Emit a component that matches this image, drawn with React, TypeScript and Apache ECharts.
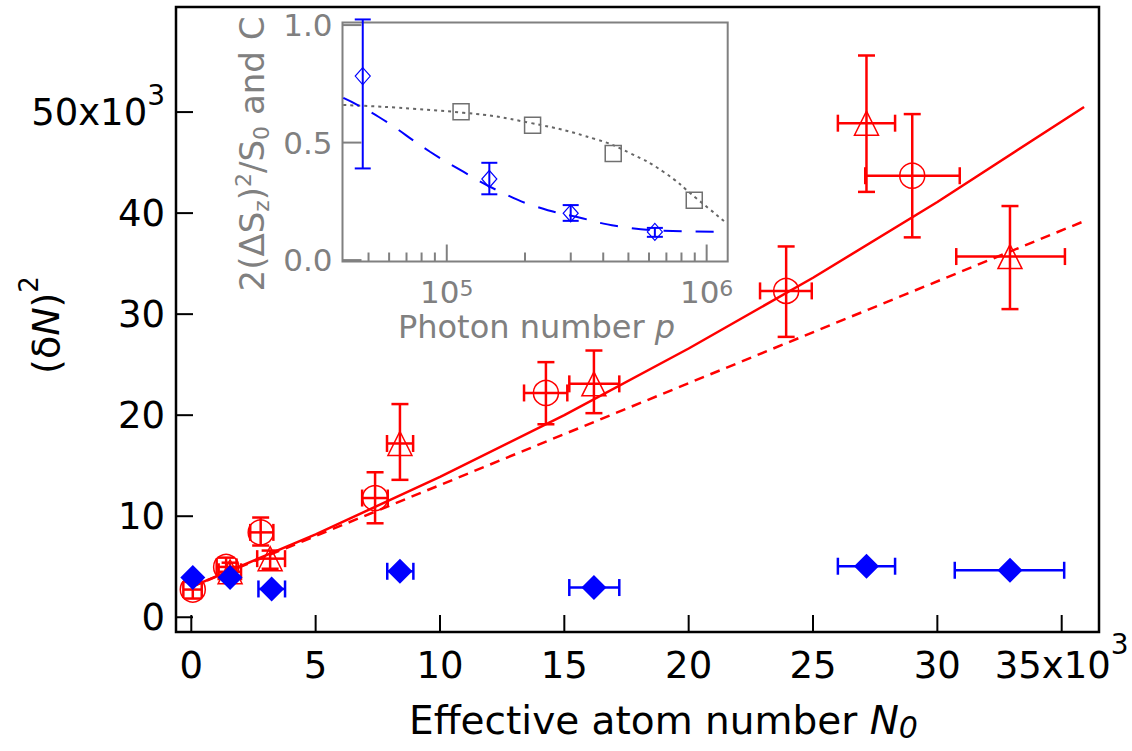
import React, { useEffect, useRef } from "react";
import * as echarts from "echarts";

const FONT = "DejaVu Sans";
const RED = "#ff0000";
const BLUE = "#0000ff";
const GRAY = "#808080";

// ---------- main plot (values in units of 10^3) ----------
const xTicks = [0, 5, 10, 15, 20, 25, 30, 35];
const yTicks = [0, 10, 20, 30, 40, 50];

// red open circles
const circX = [0.06, 1.4, 2.79, 7.39, 14.26, 23.92, 28.99];
const circY = [2.74, 4.98, 8.4, 11.8, 22.2, 32.3, 43.7];
const circXLo = [-0.32, 1.02, 2.37, 6.87, 13.38, 22.87, 27.1];
const circXHi = [0.42, 1.82, 3.3, 7.9, 15.12, 24.95, 30.9];
const circYLo = [1.85, 4.1, 7.1, 9.3, 19.1, 27.75, 37.6];
const circYHi = [3.5, 5.9, 9.87, 14.35, 25.25, 36.7, 49.8];

// red open triangles
const triX = [1.56, 3.17, 8.39, 16.19, 27.15, 32.92];
const triY = [4.5, 5.8, 17.2, 23.1, 48.9, 35.7];
const triXLo = [1.1, 2.65, 7.87, 15.2, 26.0, 30.76];
const triXHi = [2.0, 3.77, 8.92, 17.21, 28.3, 35.13];
const triYLo = [3.7, 4.8, 13.6, 20.2, 42.1, 30.5];
const triYHi = [5.4, 6.6, 21.1, 26.4, 55.6, 40.7];

// blue filled diamonds
const diaX = [0.06, 1.56, 3.23, 8.39, 16.19, 27.15, 32.92];
const diaY = [3.93, 3.93, 2.8, 4.55, 2.94, 5.05, 4.65];
const diaXLo = [0.06, 1.56, 2.7, 7.88, 15.2, 26.0, 30.7];
const diaXHi = [0.06, 1.56, 3.77, 8.93, 17.21, 28.3, 35.1];

// fit curves
const fitSolidX = [0, 5, 10, 15, 20, 25, 30, 35.9];
const fitSolidY = [3.0, 8.2, 13.9, 20.0, 26.6, 33.6, 41.1, 50.5];
const fitDashX = [0, 35.9];
const fitDashY = [3.0, 39.2];

// ---------- inset ----------
const insetYTicks = [0, 0.5, 1.0];
const insetMajorTicks = [100000, 1000000];
const insetMinorTicks = [50000, 60000, 70000, 80000, 90000, 200000, 300000, 400000, 500000, 600000, 700000, 800000, 900000];

const insDiaP = [47500, 145800, 299800, 632000];
const insDiaV = [0.783, 0.345, 0.199, 0.12];
const insDiaLo = [0.39, 0.28, 0.167, 0.099];
const insDiaHi = [1.024, 0.414, 0.234, 0.137];

const insSqP = [113500, 213900, 437000, 896000];
const insSqV = [0.631, 0.574, 0.454, 0.255];

const insDotP = [40000, 115800, 209000, 377600, 507000, 681000, 915000, 1195000];
const insDotV = [0.66, 0.627, 0.584, 0.513, 0.455, 0.376, 0.262, 0.156];

const insDashP = [40000, 54600, 86200, 115800, 160400, 222000, 335000, 451000, 681000, 1195000];
const insDashV = [0.69, 0.61, 0.461, 0.376, 0.291, 0.227, 0.177, 0.145, 0.125, 0.12];

const MAIN_XMIN = -0.615;
const MAIN_XMAX = 36.5;
const MAIN_YMIN = -1.46;
const MAIN_YMAX = 60.4;
const INSET_XMIN = 39700;
const INSET_XMAX = 1205000;
const INSET_YMIN = -0.006;
const INSET_YMAX = 1.011;

function errorBars(
  xs: number[], ys: number[], xlo: number[], xhi: number[], ylo: number[], yhi: number[],
  color: string, cap: number, width: number, axisIndex: number, z = 3
) {
  const data = xs.map((x, i) => [x, ys[i], xlo[i], xhi[i], ylo[i], yhi[i]]);
  return {
    type: "custom",
    xAxisIndex: axisIndex,
    yAxisIndex: axisIndex,
    clip: false,
    z,
    silent: true,
    data,
    encode: { x: 0, y: 1 },
    renderItem: (params: any, api: any) => {
      const x = api.value(0);
      const y = api.value(1);
      const style = { stroke: color, lineWidth: width, fill: "none" };
      const children: any[] = [];
      const yl = api.value(4);
      const yh = api.value(5);
      if (yh > yl) {
        const a = api.coord([x, yl]);
        const b = api.coord([x, yh]);
        children.push({ type: "line", shape: { x1: a[0], y1: a[1], x2: b[0], y2: b[1] }, style });
        children.push({ type: "line", shape: { x1: a[0] - cap / 2, y1: a[1], x2: a[0] + cap / 2, y2: a[1] }, style });
        children.push({ type: "line", shape: { x1: b[0] - cap / 2, y1: b[1], x2: b[0] + cap / 2, y2: b[1] }, style });
      }
      const xl = api.value(2);
      const xh = api.value(3);
      if (xh > xl) {
        const a = api.coord([xl, y]);
        const b = api.coord([xh, y]);
        children.push({ type: "line", shape: { x1: a[0], y1: a[1], x2: b[0], y2: b[1] }, style });
        children.push({ type: "line", shape: { x1: a[0], y1: a[1] - cap / 2, x2: a[0], y2: a[1] + cap / 2 }, style });
        children.push({ type: "line", shape: { x1: b[0], y1: b[1] - cap / 2, x2: b[0], y2: b[1] + cap / 2 }, style });
      }
      return { type: "group", children };
    },
  };
}

// inward tick marks drawn through the axes' scales
function tickSeries(axisIndex: number, vals: number[], dir: "x" | "y", edge: number, len: number, color: string, width: number) {
  return {
    type: "custom",
    xAxisIndex: axisIndex,
    yAxisIndex: axisIndex,
    clip: false,
    silent: true,
    z: 6,
    data: vals.map((v) => (dir === "x" ? [v, edge] : [edge, v])),
    encode: { x: 0, y: 1 },
    renderItem: (params: any, api: any) => {
      const p = api.coord([api.value(0), api.value(1)]);
      const shape = dir === "x"
        ? { x1: p[0], y1: p[1], x2: p[0], y2: p[1] - len }
        : { x1: p[0], y1: p[1], x2: p[0] + len, y2: p[1] };
      return { type: "line", shape, style: { stroke: color, lineWidth: width } };
    },
  };
}

export default function App() {
  const ref = useRef<HTMLDivElement>(null);
  useEffect(() => {
    if (!ref.current) return;
    const chart = echarts.init(ref.current, null, { renderer: "svg" });
    const option: any = {
      animation: false,
      backgroundColor: "#ffffff",
      textStyle: { fontFamily: FONT },
      grid: [
        { left: 176, top: 7, right: 33, bottom: 119, show: true, borderColor: "#000", borderWidth: 2.5, backgroundColor: "transparent", outerBoundsMode: "none", containLabel: false },
        { left: 342.5, top: 22.5, right: 404.3, bottom: 489.5, show: true, borderColor: GRAY, borderWidth: 2, backgroundColor: "transparent", outerBoundsMode: "none", containLabel: false },
      ],
      xAxis: [
        {
          gridIndex: 0, type: "value", min: MAIN_XMIN, max: MAIN_XMAX,
          axisLine: { show: false, onZero: false }, splitLine: { show: false },
          axisTick: { show: false },
          axisLabel: {
            customValues: xTicks, margin: -2,
            formatter: (v: number) => (v === 35 ? "{m|35x10}{s|3}" : `{m|${v}}`),
            rich: {
              m: { fontSize: 37, lineHeight: 70, fontFamily: FONT, color: "#000" },
              s: { fontSize: 28, lineHeight: 8, verticalAlign: "top", fontFamily: FONT, color: "#000" },
            },
          },
        },
        {
          gridIndex: 1, type: "log", logBase: 10, min: INSET_XMIN, max: INSET_XMAX,
          axisLine: { show: false, onZero: false }, splitLine: { show: false }, axisTick: { show: false },
          axisLabel: {
            margin: 15.5, showMinLabel: false, showMaxLabel: false,
            formatter: (v: number) => {
              const e = Math.log10(v);
              if (Math.abs(e - Math.round(e)) > 1e-6) return "";
              return `{m|10}{s|${Math.round(e)}}`;
            },
            rich: {
              m: { fontSize: 31, lineHeight: 30, fontFamily: FONT, color: GRAY },
              s: { fontSize: 22, lineHeight: 2, verticalAlign: "top", fontFamily: FONT, color: GRAY },
            },
          },
        },
      ],
      yAxis: [
        {
          gridIndex: 0, type: "value", min: MAIN_YMIN, max: MAIN_YMAX,
          axisLine: { show: false, onZero: false }, splitLine: { show: false },
          axisTick: { show: false },
          axisLabel: {
            customValues: yTicks, margin: 11,
            formatter: (v: number) => (v === 50 ? "{m|50x10}{s|3}" : `{m|${v}}`),
            rich: {
              m: { fontSize: 37, lineHeight: 62, fontFamily: FONT, color: "#000" },
              s: { fontSize: 28, lineHeight: 10, verticalAlign: "top", fontFamily: FONT, color: "#000" },
            },
          },
        },
        {
          gridIndex: 1, type: "value", min: INSET_YMIN, max: INSET_YMAX,
          axisLine: { show: false, onZero: false }, splitLine: { show: false },
          axisTick: { show: false },
          axisLabel: {
            customValues: insetYTicks, margin: 10, color: GRAY, fontSize: 31, fontFamily: FONT,
            formatter: (v: number) => v.toFixed(1),
          },
        },
      ],
      graphic: [
        {
          type: "text", x: 663.5, y: 720,
          style: {
            text: "Effective atom number {i|N}{sub|0}",
            fontSize: 39, fontFamily: FONT, fill: "#000", lineHeight: 44,
            align: "center", verticalAlign: "middle",
            rich: {
              i: { fontSize: 39, fontStyle: "italic", fontFamily: FONT, lineHeight: 44 },
              sub: { fontSize: 30, fontStyle: "italic", fontFamily: FONT, lineHeight: 17, verticalAlign: "bottom" },
            },
          },
        },
        {
          type: "text", x: 46, y: 325, rotation: Math.PI / 2,
          style: {
            text: "(δ{i|N}){s|2}",
            fontSize: 38, fontFamily: FONT, fill: "#000", lineHeight: 60,
            align: "center", verticalAlign: "middle",
            rich: {
              i: { fontSize: 38, fontStyle: "italic", fontFamily: FONT, lineHeight: 60 },
              s: { fontSize: 26, fontFamily: FONT, lineHeight: 8, verticalAlign: "top" },
            },
          },
        },
        {
          type: "text", x: 536.5, y: 327,
          style: {
            text: "Photon number {i|p}",
            fontSize: 32, fontFamily: FONT, fill: GRAY, lineHeight: 32,
            align: "center", verticalAlign: "middle",
            rich: { i: { fontSize: 32, fontStyle: "italic", fontFamily: FONT, lineHeight: 32, color: GRAY } },
          },
        },
        {
          type: "text", x: 252, y: 154, rotation: Math.PI / 2,
          style: {
            text: "2(ΔS{b|z}){t|2}/S{b|0} and C",
            fontSize: 34, fontFamily: FONT, fill: GRAY, lineHeight: 40,
            align: "center", verticalAlign: "middle",
            rich: {
              b: { fontSize: 22, fontFamily: FONT, lineHeight: 18, verticalAlign: "bottom", color: GRAY },
              t: { fontSize: 22, fontFamily: FONT, lineHeight: 12, verticalAlign: "top", color: GRAY },
            },
          },
        },
      ],
      series: [
        {
          type: "line", xAxisIndex: 0, yAxisIndex: 0, showSymbol: false, symbol: "none", z: 2,
          data: fitSolidX.map((x, i) => [x, fitSolidY[i]]),
          lineStyle: { color: RED, width: 2.5, type: "solid" },
        },
        {
          type: "line", xAxisIndex: 0, yAxisIndex: 0, showSymbol: false, symbol: "none", z: 2,
          data: fitDashX.map((x, i) => [x, fitDashY[i]]),
          lineStyle: { color: RED, width: 2.5, type: [10, 7] },
        },
        errorBars(circX, circY, circXLo, circXHi, circYLo, circYHi, RED, 17, 2.5, 0),
        errorBars(triX, triY, triXLo, triXHi, triYLo, triYHi, RED, 17, 2.5, 0),
        errorBars(diaX, diaY, diaXLo, diaXHi, diaY, diaY, BLUE, 17, 2.5, 0),
        {
          type: "scatter", xAxisIndex: 0, yAxisIndex: 0, symbol: "circle", symbolSize: 25, z: 4,
          data: circX.map((x, i) => [x, circY[i]]),
          itemStyle: { color: "rgba(0,0,0,0)", borderColor: RED, borderWidth: 1.5, opacity: 1 },
        },
        {
          type: "scatter", xAxisIndex: 0, yAxisIndex: 0, symbol: "triangle", symbolSize: [24, 24], z: 4,
          data: triX.map((x, i) => [x, triY[i]]),
          itemStyle: { color: "rgba(0,0,0,0)", borderColor: RED, borderWidth: 1.5, opacity: 1 },
        },
        {
          type: "scatter", xAxisIndex: 0, yAxisIndex: 0, symbol: "diamond", symbolSize: [25, 25], z: 5,
          data: diaX.map((x, i) => [x, diaY[i]]),
          itemStyle: { color: BLUE, borderWidth: 0, opacity: 1 },
        },
        tickSeries(0, xTicks, "x", MAIN_YMIN, 17, "#000", 2),
        tickSeries(0, yTicks, "y", MAIN_XMIN, 17, "#000", 2),
        // inset
        {
          type: "line", xAxisIndex: 1, yAxisIndex: 1, showSymbol: false, symbol: "none", z: 2,
          data: insDotP.map((p, i) => [p, insDotV[i]]), smooth: true,
          lineStyle: { color: "#666666", width: 2, type: [3, 4] },
        },
        {
          type: "line", xAxisIndex: 1, yAxisIndex: 1, showSymbol: false, symbol: "none", z: 2,
          data: insDashP.map((p, i) => [p, insDashV[i]]), smooth: true,
          lineStyle: { color: BLUE, width: 2, type: [18, 14] },
        },
        errorBars(insDiaP, insDiaV, insDiaP, insDiaP, insDiaLo, insDiaHi, BLUE, 16, 2, 1),
        {
          type: "scatter", xAxisIndex: 1, yAxisIndex: 1, symbol: "diamond", symbolSize: [15, 17], z: 4,
          data: insDiaP.map((p, i) => [p, insDiaV[i]]),
          itemStyle: { color: "rgba(0,0,0,0)", borderColor: BLUE, borderWidth: 1.2, opacity: 1 },
        },
        {
          type: "scatter", xAxisIndex: 1, yAxisIndex: 1, symbol: "rect", symbolSize: 16, z: 4,
          data: insSqP.map((p, i) => [p, insSqV[i]]),
          itemStyle: { color: "rgba(0,0,0,0)", borderColor: "#707070", borderWidth: 1.5, opacity: 1 },
        },
        tickSeries(1, insetMajorTicks, "x", INSET_YMIN, 17, GRAY, 2),
        tickSeries(1, insetMinorTicks, "x", INSET_YMIN, 9, GRAY, 2),
        tickSeries(1, insetYTicks, "y", INSET_XMIN, 19, GRAY, 2),
      ],
    };
    chart.setOption(option);
    return () => chart.dispose();
  }, []);
  return <div ref={ref} style={{ position: "absolute", left: 0, top: 0, width: 1132, height: 751 }} />;
}
